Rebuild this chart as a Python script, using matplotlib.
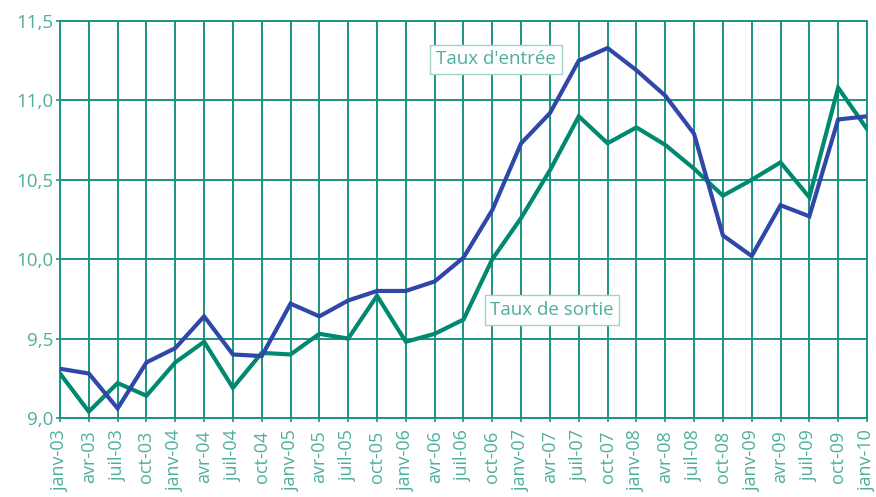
"""Taux d'entrée / taux de sortie, trimestriel 2003-2010."""
import matplotlib
matplotlib.use("Agg")
import matplotlib.pyplot as plt

quarters = [
    "janv-03", "avr-03", "juil-03", "oct-03",
    "janv-04", "avr-04", "juil-04", "oct-04",
    "janv-05", "avr-05", "juil-05", "oct-05",
    "janv-06", "avr-06", "juil-06", "oct-06",
    "janv-07", "avr-07", "juil-07", "oct-07",
    "janv-08", "avr-08", "juil-08", "oct-08",
    "janv-09", "avr-09", "juil-09", "oct-09",
    "janv-10",
]
taux_entree = [
    9.31, 9.28, 9.06, 9.35, 9.44, 9.64, 9.40, 9.39,
    9.72, 9.64, 9.74, 9.80, 9.80, 9.86, 10.01, 10.31,
    10.73, 10.92, 11.25, 11.33, 11.19, 11.03, 10.79, 10.15,
    10.02, 10.34, 10.27, 10.88, 10.90,
]
taux_sortie = [
    9.28, 9.04, 9.22, 9.14, 9.35, 9.48, 9.19, 9.41,
    9.40, 9.53, 9.50, 9.77, 9.48, 9.53, 9.62, 10.00,
    10.26, 10.56, 10.90, 10.73, 10.83, 10.72, 10.57, 10.40,
    10.50, 10.61, 10.39, 11.08, 10.82,
]
y_ticks = [9.0, 9.5, 10.0, 10.5, 11.0, 11.5]

BLUE = "#2f47a8"
GREEN = "#00896f"
GRID = "#1b9481"
TEXT = "#4fae9c"

plt.rcParams["font.family"] = ["Open Sans", "DejaVu Sans"]

fig = plt.figure(figsize=(8.76, 4.97), dpi=100)
ax = fig.add_axes([0.0685, 0.159, 0.9212, 0.7987])

x = range(len(quarters))
ax.plot(x, taux_sortie, color=GREEN, lw=3.0, solid_joinstyle="miter", zorder=3)
ax.plot(x, taux_entree, color=BLUE, lw=3.0, solid_joinstyle="miter", zorder=4)

ax.set_xlim(0, len(quarters) - 1)
ax.set_ylim(y_ticks[0], y_ticks[-1])
ax.set_xticks(list(x))
ax.set_xticklabels(quarters, rotation=90, fontsize=13, color=TEXT)
ax.set_yticks(y_ticks)
ax.set_yticklabels([f"{v:.1f}".replace(".", ",") for v in y_ticks],
                   fontsize=13.5, color=TEXT)
ax.tick_params(axis="both", length=3, width=1.2, color=GRID)
ax.tick_params(axis="x", pad=6)
ax.tick_params(axis="y", pad=2)
ax.grid(True, color=GRID, lw=1.4, zorder=1)
for s in ax.spines.values():
    s.set_color(GRID)
    s.set_linewidth(1.4)

box = dict(boxstyle="square,pad=0.3", fc="white", ec="#9fd3c8", lw=1)
ax.text(15.13, 11.26, "Taux d'entrée", fontsize=13.5, color=TEXT,
        ha="center", va="center", bbox=box, zorder=5)
ax.text(17.07, 9.68, "Taux de sortie", fontsize=13.5, color=TEXT,
        ha="center", va="center", bbox=box, zorder=5)

fig.savefig("out.png", dpi=100)
